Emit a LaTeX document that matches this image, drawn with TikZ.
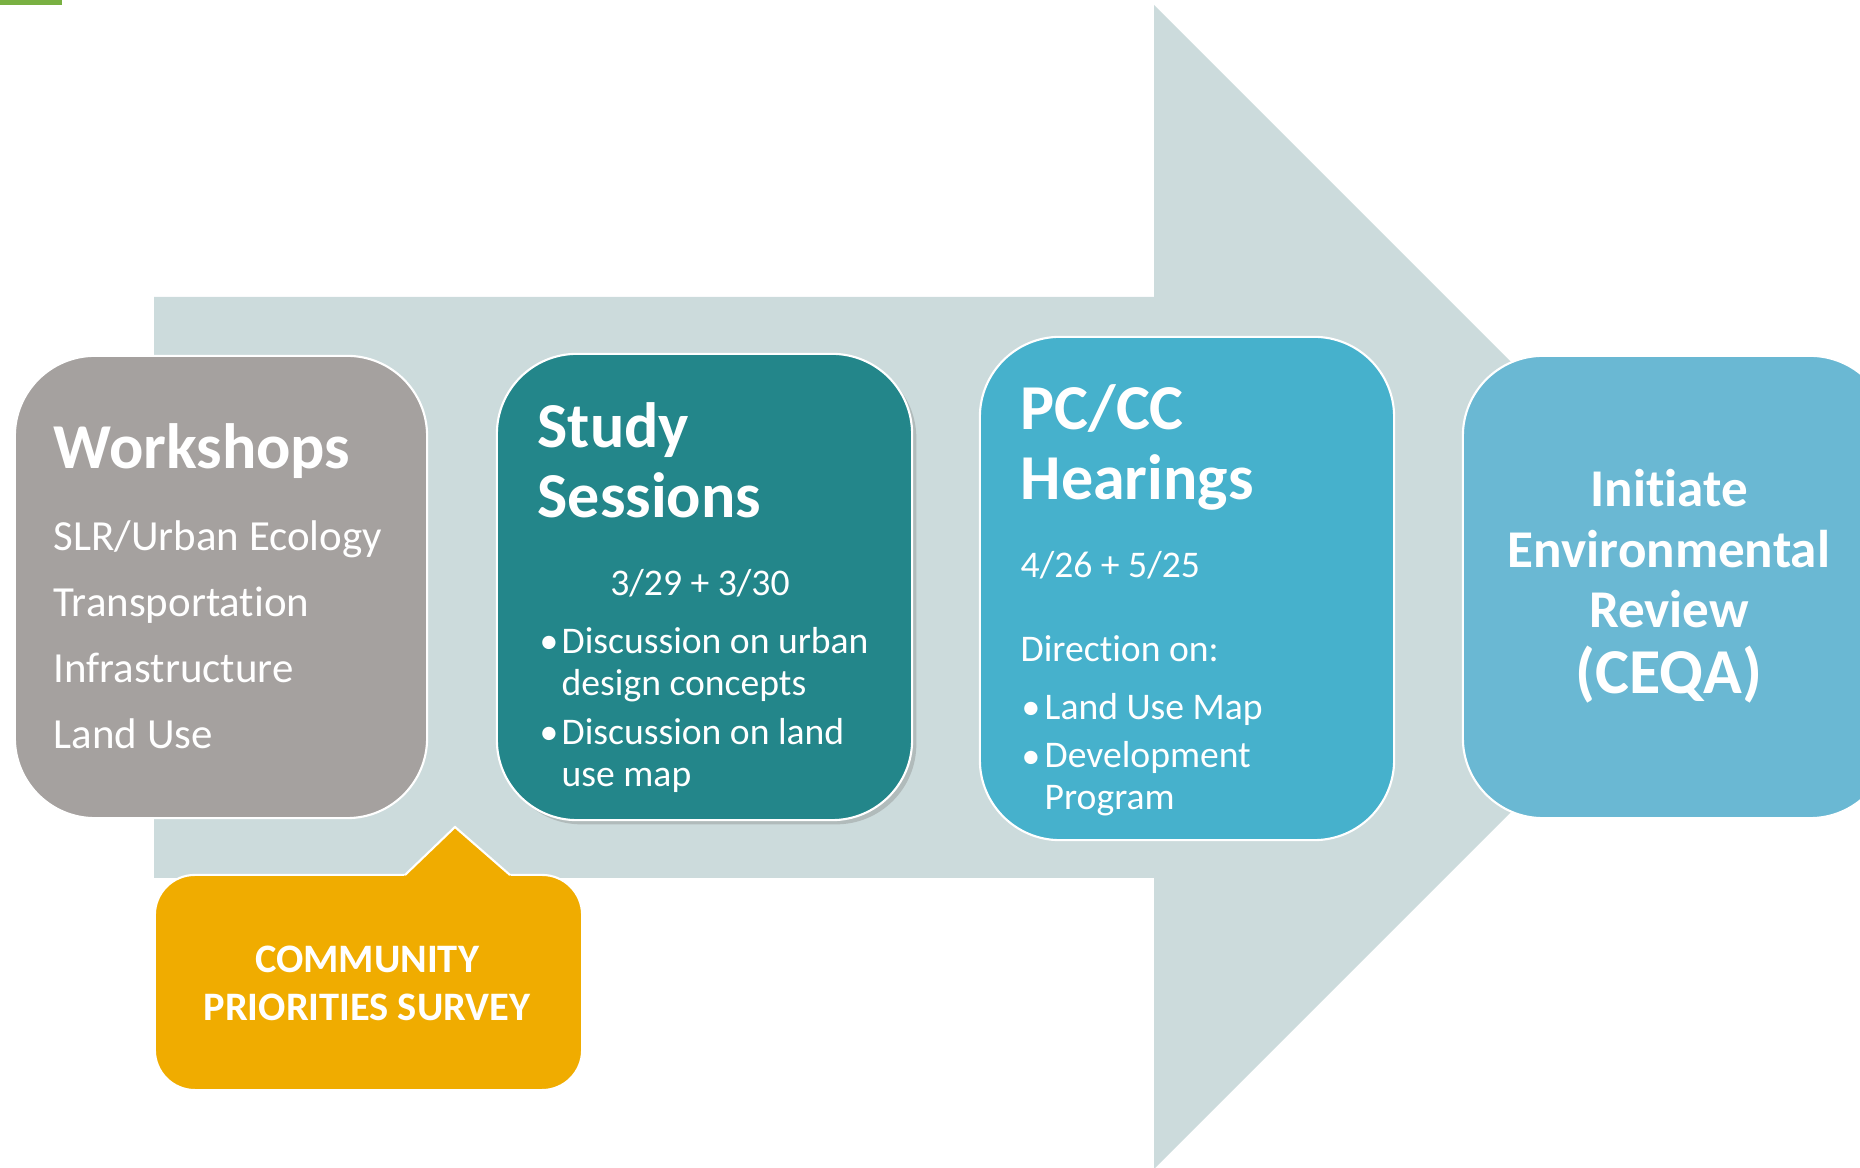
\documentclass[tikz,border=0pt]{standalone}
\usepackage{fontspec}
\setmainfont{Carlito}[Ligatures=NoCommon]
\usepackage{tikz}
\usetikzlibrary{shadows}
\definecolor{greenbar}{HTML}{79B042}
\definecolor{arrowgray}{HTML}{CCDBDC}
\definecolor{workgray}{HTML}{A5A19F}
\definecolor{studyteal}{HTML}{23868A}
\definecolor{hearblue}{HTML}{46B1CC}
\definecolor{ceqablue}{HTML}{6AB8D3}
\definecolor{surveygold}{HTML}{F0AC00}

\begin{document}
\begin{tikzpicture}[x=0.01cm,y=-0.01cm,
	title/.style={font=\bfseries\fontsize{18.2}{20}\selectfont,text=white,align=left,anchor=base west,inner sep=0pt},
	list/.style={font=\fontsize{12.2}{18.8}\selectfont,text=white,align=left,anchor=base west,inner sep=0pt},
	body/.style={font=\fontsize{10.7}{12}\selectfont,text=white,align=left,anchor=base west,inner sep=0pt}]
\useasboundingbox (0,0) rectangle (1860,1168);
\clip (0,0) rectangle (1860,1168);
\fill[greenbar] (0,0) rectangle (62,5);
\fill[arrowgray] (154,297) -- (1154,297) -- (1154,5) -- (1736,587) -- (1154,1169) -- (1154,878) -- (154,878) -- cycle;

\begin{scope}[every node/.style={rectangle,rounded corners=0.8cm,draw=white,line width=0.6pt,inner sep=0pt}]
	\node[fill=workgray,minimum width=4.12cm,minimum height=4.62cm] (workshops) at (221,587) {};
	\node[fill=studyteal,minimum width=4.15cm,minimum height=4.66cm,
		drop shadow={shadow xshift=1.2pt,shadow yshift=-1.2pt,opacity=0.35}] (study) at (704.5,587) {};
	\node[fill=hearblue,minimum width=4.14cm,minimum height=5.03cm] (hearings) at (1187,588.5) {};
	\node[fill=ceqablue,minimum width=4.27cm,minimum height=4.62cm] (ceqa) at (1676.5,587) {};
	\node[fill=surveygold,rounded corners=0.4cm,minimum width=4.27cm,minimum height=2.15cm] (survey) at (368.5,982.5) {};
\end{scope}
\fill[surveygold] (403,877) -- (455,827) -- (512,877) -- cycle;
\draw[white,line width=0.6pt] (405,875) -- (455,827) -- (510,875);

\node[title] (worktitle) at (53,469) {Workshops};
\node[list] (worklist) at (53,749) {SLR/Urban Ecology\\Transportation\\Infrastructure\\Land Use};

\node[title] (studytitle) at (537,518) {Study\\Sessions};
\node[body,anchor=base] (studydate) at (700,596) {3/29 + 3/30};
\node[body] (studybulla) at (539,654) {•};
\node[body] (studyitema) at (561,696) {Discussion on urban\\design concepts};
\node[body] (studybullb) at (539,745) {•};
\node[body] (studyitemb) at (561,787) {Discussion on land\\use map};

\node[title] (heartitle) at (1020,500) {PC/CC\\Hearings};
\node[body] (heardate) at (1020,578) {4/26 + 5/25};
\node[body] (hearhead) at (1020,662) {Direction on:};
\node[body] (hearbulla) at (1021,720) {•};
\node[body] (hearitema) at (1044,720) {Land Use Map};
\node[body] (hearbullb) at (1021,769) {•};
\node[body] (hearitemb) at (1044,810) {Development\\Program};

\node[font=\bfseries\fontsize{15.1}{17.3}\selectfont,text=white,align=center,anchor=base,inner sep=0pt] (ceqatext) at (1669,628) {Initiate\\Environmental\\Review};
\node[font=\bfseries\fontsize{18.2}{20}\selectfont,text=white,anchor=base,inner sep=0pt] (ceqaname) at (1669,694) {(CEQA)};

\node[font=\bfseries\fontsize{11.5}{13.7}\selectfont,text=white,align=center,anchor=base,inner sep=0pt] (surveytext) at (367,1021) {COMMUNITY\\PRIORITIES SURVEY};
\end{tikzpicture}
\end{document}
